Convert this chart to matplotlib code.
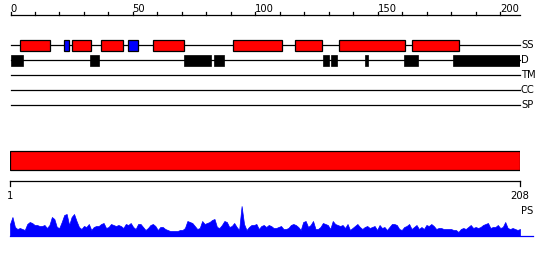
import matplotlib
matplotlib.use("Agg")
import matplotlib.pyplot as plt
from matplotlib.patches import Rectangle

# ---------------- data ----------------
seq_len = 208
scale_ticks = list(range(0, 201, 10))
scale_labels = [0, 50, 100, 150, 200]

track_names = ["SS", "D", "TM", "CC", "SP"]

# secondary structure: (start, end, kind)  kind: 'H' helix (red), 'E' strand (blue)
ss_start = [4, 22, 25, 37, 48, 58, 91, 116, 134, 164]
ss_end = [16, 24, 33, 46, 52, 71, 111, 127, 161, 183]
ss_kind = ["H", "E", "H", "H", "E", "H", "H", "H", "H", "H"]

# disorder segments
dis_start = [0, 32.5, 71, 83, 127.7, 130.8, 144.7, 160.6, 180.6]
dis_end = [5, 36, 82, 87, 130.0, 133.1, 145.8, 166.3, 208]

# PS profile per residue (1..208)
ps = [12, 19, 9, 7, 8, 7, 6, 12, 14, 13, 11, 11, 10, 10, 11, 8, 11, 19, 17, 9,
      8, 14, 21, 22, 11, 19, 22, 15, 9, 7, 10, 9, 12, 6, 9, 10, 10, 12, 13, 8,
      9, 12, 11, 10, 11, 10, 8, 12, 11, 13, 9, 7, 12, 12, 9, 6, 8, 11, 12, 10,
      6, 9, 9, 7, 6, 5, 5, 5, 5, 6, 6, 8, 15, 14, 13, 10, 7, 8, 15, 12,
      13, 14, 16, 17, 9, 8, 11, 15, 14, 9, 10, 13, 9, 6, 30, 12, 6, 9, 11, 11,
      12, 7, 10, 11, 9, 11, 10, 8, 8, 9, 10, 7, 7, 8, 11, 12, 11, 9, 6, 14,
      15, 9, 11, 15, 7, 7, 9, 13, 12, 11, 7, 15, 12, 11, 10, 11, 8, 12, 6, 8,
      10, 12, 9, 7, 9, 10, 8, 9, 10, 6, 11, 8, 9, 6, 9, 12, 12, 11, 7, 6,
      9, 10, 12, 7, 9, 11, 7, 9, 7, 11, 10, 12, 10, 7, 8, 8, 7, 7, 7, 7,
      6, 6, 4, 7, 8, 7, 9, 11, 8, 9, 8, 9, 11, 12, 13, 8, 9, 9, 11, 8,
      9, 14, 8, 7, 8, 7, 6, 7]
residues = list(range(1, seq_len + 1))

# ---------------- figure ----------------
W, H = 550, 260
fig = plt.figure(figsize=(W / 100, H / 100), dpi=100)
plt.rcParams['font.family'] = ['DejaVu Sans']
fs = 7.2
lw = 0.9

# top panel axes: x in residue units (0..208), y in pixels (inverted)
ax = fig.add_axes([10.5 / W, 0, 509.5 / W, 1])
ax.set_xlim(0, seq_len)
ax.set_ylim(H, 0)
ax.axis("off")

# scale at top
ax.plot([0, seq_len], [15, 15], color="black", lw=lw, clip_on=False)
for t in scale_ticks:
    ax.plot([t, t], [15, 11.5], color="black", lw=lw, clip_on=False)
for t in scale_labels:
    ax.text(t - 0.2, 9, str(t), ha="left", va="center", fontsize=fs)

# tracks
track_y = [45, 60, 75, 90, 105]
for name, y in zip(track_names, track_y):
    ax.plot([0, seq_len], [y, y], color="black", lw=lw, clip_on=False, zorder=1)
    ax.text(seq_len + 0.4, y, name, ha="left", va="center", fontsize=fs)

for s, e, k in zip(ss_start, ss_end, ss_kind):
    col = "#ff0000" if k == "H" else "#0000ff"
    ax.add_patch(Rectangle((s, 40), e - s, 10.5, facecolor=col,
                           edgecolor="black", lw=lw, zorder=2))
for s, e in zip(dis_start, dis_end):
    ax.add_patch(Rectangle((s, 54.5), e - s, 11.5, facecolor="black",
                           edgecolor="black", lw=0.5, zorder=2))

# bottom panel: residues 1..208
ax2 = fig.add_axes([10 / W, 0, 510 / W, 1])
ax2.set_xlim(1, seq_len)
ax2.set_ylim(H, 0)
ax2.axis("off")
ax2.add_patch(Rectangle((1, 150.7), seq_len - 1, 19.3, facecolor="#ff0000",
                        edgecolor="black", lw=lw, zorder=2))
ax2.plot([1, seq_len], [180.7, 180.7], color="black", lw=lw, clip_on=False)
ax2.plot([1, 1], [180.7, 185.5], color="black", lw=lw, clip_on=False)
ax2.plot([seq_len, seq_len], [180.7, 185.5], color="black", lw=lw, clip_on=False)
ax2.text(1, 196, "1", ha="center", va="center", fontsize=fs)
ax2.text(seq_len, 196, "208", ha="center", va="center", fontsize=fs)
ax2.text(seq_len + 0.6, 211, "PS", ha="left", va="center", fontsize=fs)

# PS profile axes
ax3 = fig.add_axes([10 / W, (H - 236) / H, 510 / W, 30 / H])
ax3.set_xlim(1, seq_len)
ax3.set_ylim(0, 30)
ax3.axis("off")
ax3.fill_between(residues, 0, ps, color="#0000ff", lw=0.5, edgecolor="#0000ff")
ax3.plot([1, seq_len + 5.3], [0, 0], color="#0000ff", lw=lw, clip_on=False)

fig.savefig("out.png", dpi=100)
